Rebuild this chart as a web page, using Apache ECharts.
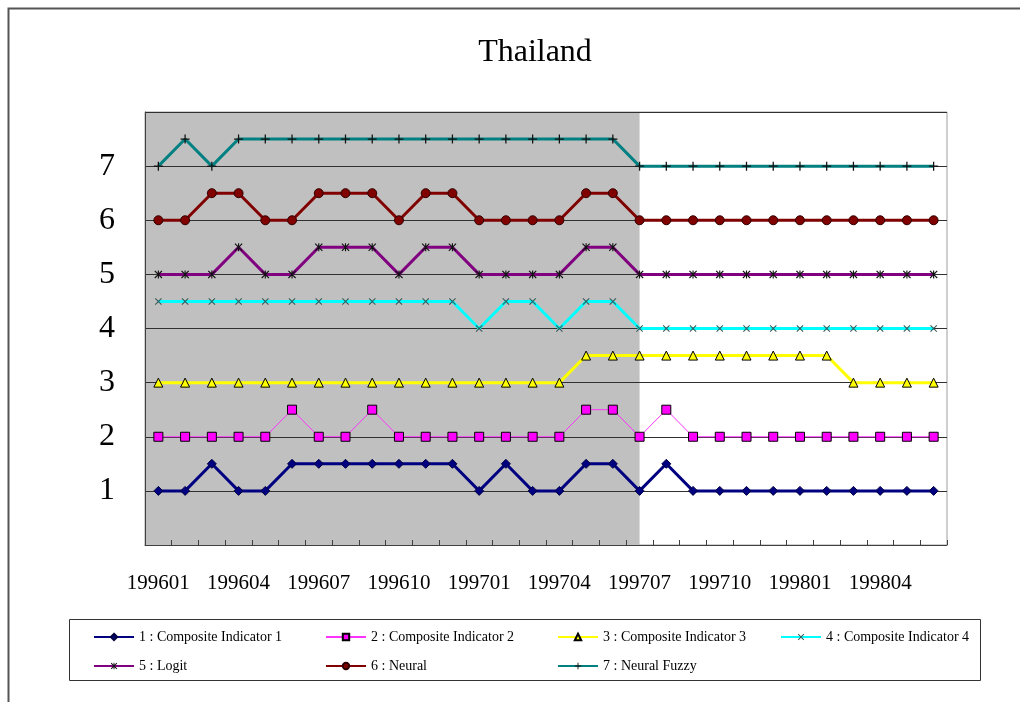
<!DOCTYPE html>
<html>
<head>
<meta charset="utf-8">
<script src="https://cdn.jsdelivr.net/npm/echarts@6/dist/echarts.min.js"></script>
<style>html,body{margin:0;padding:0;background:#fff;}#c{width:1020px;height:702px;}</style>
</head>
<body>
<div id="c"></div>
<script>
const categories = ['199601','199602','199603','199604','199605','199606','199607','199608','199609','199610','199611','199612',
  '199701','199702','199703','199704','199705','199706','199707','199708','199709','199710','199711','199712',
  '199801','199802','199803','199804','199805','199806'];
const yTickLabels = ['1','2','3','4','5','6','7'];
const ci1 = [1,1,1.5,1,1,1.5,1.5,1.5,1.5,1.5,1.5,1.5,1,1.5,1,1,1.5,1.5,1,1.5,1,1,1,1,1,1,1,1,1,1];
const ci2 = [2,2,2,2,2,2.5,2,2,2.5,2,2,2,2,2,2,2,2.5,2.5,2,2.5,2,2,2,2,2,2,2,2,2,2];
const ci3 = [3,3,3,3,3,3,3,3,3,3,3,3,3,3,3,3,3.5,3.5,3.5,3.5,3.5,3.5,3.5,3.5,3.5,3.5,3,3,3,3];
const ci4 = [4.5,4.5,4.5,4.5,4.5,4.5,4.5,4.5,4.5,4.5,4.5,4.5,4,4.5,4.5,4,4.5,4.5,4,4,4,4,4,4,4,4,4,4,4,4];
const logit = [5,5,5,5.5,5,5,5.5,5.5,5.5,5,5.5,5.5,5,5,5,5,5.5,5.5,5,5,5,5,5,5,5,5,5,5,5,5];
const neural = [6,6,6.5,6.5,6,6,6.5,6.5,6.5,6,6.5,6.5,6,6,6,6,6.5,6.5,6,6,6,6,6,6,6,6,6,6,6,6];
const neuralFuzzy = [7,7.5,7,7.5,7.5,7.5,7.5,7.5,7.5,7.5,7.5,7.5,7.5,7.5,7.5,7.5,7.5,7.5,7,7,7,7,7,7,7,7,7,7,7,7];
const shadeEnd = '199707';
const names = ['1 : Composite Indicator 1','2 : Composite Indicator 2','3 : Composite Indicator 3','4 : Composite Indicator 4','5 : Logit','6 : Neural','7 : Neural Fuzzy'];

const X_PATH = 'path://M0,1 L1,0 L5,4 L9,0 L10,1 L6,5 L10,9 L9,10 L5,6 L1,10 L0,9 L4,5 Z';
const AST_PATH = 'path://M0,1 L1,0 L5,4 L9,0 L10,1 L6,5 L10,9 L9,10 L5,6 L1,10 L0,9 L4,5 Z M4.3,0 L5.7,0 L5.7,10 L4.3,10 Z';
const PLUS_PATH = 'path://M4.3,0 L5.7,0 L5.7,4.3 L10,4.3 L10,5.7 L5.7,5.7 L5.7,10 L4.3,10 L4.3,5.7 L0,5.7 L0,4.3 L4.3,4.3 Z';

const serif = '"Liberation Serif", "DejaVu Serif", serif';

function mk(name, data, lineColor, width, symbol, size, fill, border) {
  return {
    name: name, type: 'line', data: data, symbol: symbol, symbolSize: size,
    showAllSymbol: true, animation: false, z: 4,
    lineStyle: {color: lineColor, width: width},
    itemStyle: {color: fill, borderColor: border, borderWidth: border ? 1 : 0},
    emphasis: {disabled: true}
  };
}

const shadeIdx = categories.indexOf(shadeEnd);

const chart = echarts.init(document.getElementById('c'));
const legendBase = {orient: 'vertical', itemWidth: 40, itemHeight: 8, itemGap: 15, top: 625,
  textStyle: {fontFamily: serif, fontSize: 14, color: '#000'}, selectedMode: false};
chart.setOption({
  backgroundColor: '#fff',
  animation: false,
  title: {text: 'Thailand', left: 530, top: 32, textAlign: 'center',
    textStyle: {fontFamily: serif, fontSize: 32, fontWeight: 'normal', color: '#000'}},
  grid: {left: 145, right: 73, top: 112, bottom: 157, show: true, borderColor: '#a0a0a0', borderWidth: 1, backgroundColor: 'transparent'},
  legend: [
    Object.assign({}, legendBase, {left: 88, data: [names[0], names[4]]}),
    Object.assign({}, legendBase, {left: 320, data: [names[1], names[5]]}),
    Object.assign({}, legendBase, {left: 552, data: [names[2], names[6]]}),
    Object.assign({}, legendBase, {left: 775, data: [names[3]]})
  ],
  xAxis: [{
    type: 'category', data: categories, boundaryGap: true, z: 3,
    axisLine: {lineStyle: {color: '#404040', width: 1}},
    axisTick: {show: true, inside: true, length: 5, interval: 0, lineStyle: {color: '#404040'}},
    axisLabel: {interval: 2, margin: 28, fontFamily: serif, fontSize: 21, color: '#000'},
    splitLine: {show: false}
  }, {
    type: 'value', min: 0, max: categories.length, show: false
  }],
  yAxis: {
    type: 'value', min: 0, max: 8, interval: 1, z: 3,
    axisLine: {show: true, lineStyle: {color: '#404040'}},
    axisTick: {show: false},
    axisLabel: {margin: 30, fontFamily: serif, fontSize: 32, color: '#000',
      formatter: function (v) { return yTickLabels.indexOf(String(v)) >= 0 ? String(v) : ''; }},
    splitLine: {show: true, lineStyle: {color: '#303030', width: 1}}
  },
  graphic: [
    {type: 'polyline', shape: {points: [[8.5, 702], [8.5, 8.5], [1020, 8.5]]}, style: {stroke: '#555', lineWidth: 2, fill: null}, silent: true},
    {type: 'rect', shape: {x: 69.5, y: 619.5, width: 911, height: 61}, style: {stroke: '#333', lineWidth: 1, fill: null}, silent: true}
  ],
  series: [
    {name: 'shade', type: 'line', xAxisIndex: 1, data: [], z: 1, silent: true,
      markArea: {silent: true, z: 1, itemStyle: {color: '#c0c0c0'}, data: [[{xAxis: 0}, {xAxis: shadeIdx + 0.5}]]}},
    mk(names[0], ci1, '#000080', 3, 'diamond', 9, '#000080', '#000040'),
    mk(names[1], ci2, '#ff33ff', 1, 'rect', 9, '#ff00ff', '#000'),
    mk(names[2], ci3, '#ffff00', 3, 'triangle', 9, '#ffff00', '#000'),
    mk(names[3], ci4, '#00ffff', 3, X_PATH, 7, '#335555', null),
    mk(names[4], logit, '#800080', 3, AST_PATH, 8, '#111', null),
    mk(names[5], neural, '#800000', 3, 'circle', 9, '#800000', '#300000'),
    mk(names[6], neuralFuzzy, '#008080', 3, PLUS_PATH, 9, '#111', null)
  ]
});
</script>
</body>
</html>
